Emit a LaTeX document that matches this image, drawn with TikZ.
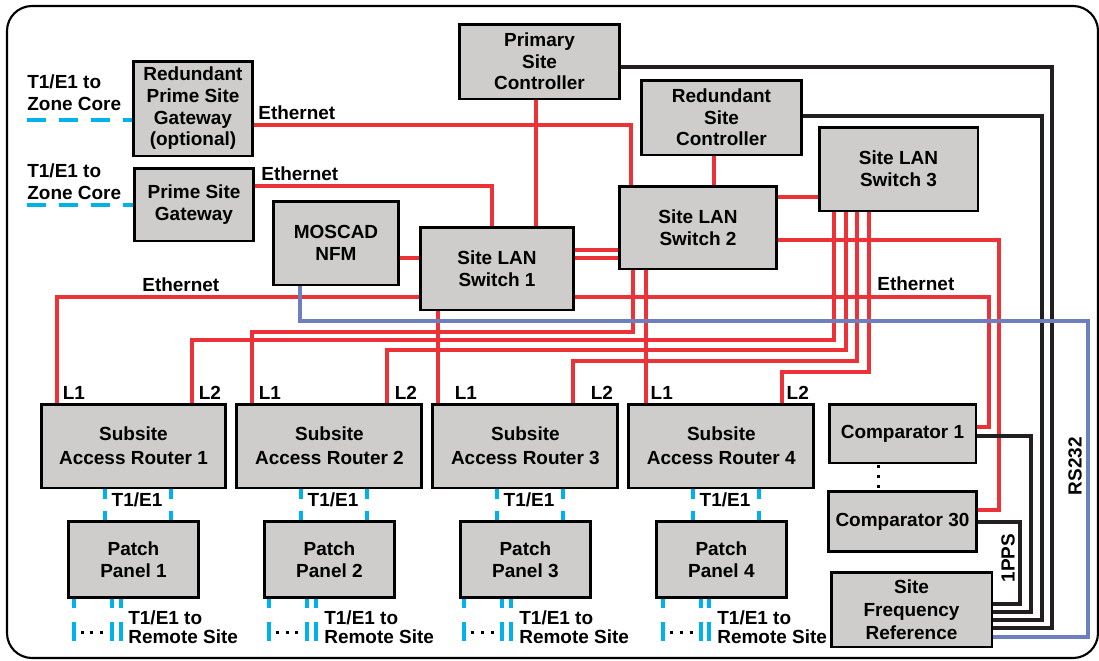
\documentclass[tikz,border=0pt]{standalone}
\usepackage{fontspec}
\setmainfont{Liberation Sans}
\usetikzlibrary{
    positioning,
    calc
}
\definecolor{BoxGray}{RGB}{206,205,203}
\definecolor{EthRed}{RGB}{237,50,55}
\definecolor{RsBlue}{RGB}{110,127,192}
\definecolor{TeCyan}{RGB}{0,178,235}
\definecolor{SyncBlack}{RGB}{35,31,32}
\tikzset{
  box/.style    = {draw=black, line width=1.7pt, fill=BoxGray, align=center,
                   inner sep=1pt, font=\fontsize{10.8}{12.3}\selectfont\bfseries},
  arbox/.style  = {box, minimum width=3.7cm, minimum height=1.68cm,
                   font=\fontsize{10.8}{13.6}\selectfont\bfseries},
  ppbox/.style  = {box, minimum width=2.6cm, minimum height=1.52cm},
  lbl/.style    = {inner sep=0pt, font=\fontsize{10.8}{12.3}\selectfont\bfseries},
  eth/.style    = {EthRed, line width=2pt},
  sync/.style   = {SyncBlack, line width=1.9pt},
  rs/.style     = {RsBlue, line width=2pt},
  zone/.style   = {TeCyan, line width=2.2pt, dash pattern=on 0.38cm off 0.26cm},
  tone/.style   = {TeCyan, line width=2.2pt, dash pattern=on 0.2cm off 0.24cm},
  tail/.style   = {TeCyan, line width=2.2pt, dash pattern=on 0.18cm off 0.28cm on 0.38cm off 2cm},
  dotrow/.style = {black, line width=0.06cm, dash pattern=on 0.06cm off 0.14cm}
}

\begin{document}
\begin{tikzpicture}[x=0.02cm, y=-0.02cm, node distance=0.62cm and 0.16cm]
\useasboundingbox (0,0) rectangle (1099,660);
\draw[line width=1.2pt, rounded corners=0.5cm] (7,6) rectangle (1098,658);

% site equipment
\node[box, minimum width=2.4cm, minimum height=1.9cm] (RGW) at (193,108.5)
    {Redundant\\Prime Site\\Gateway\\(optional)};
\node[box, minimum width=2.4cm, minimum height=1.46cm] (GW) at (194,204.5)
    {Prime Site\\Gateway};
\node[box, minimum width=3.22cm, minimum height=1.5cm] (PSC) at (539.5,61.5)
    {Primary\\Site\\Controller};
\node[box, minimum width=3.22cm, minimum height=1.5cm] (RSC) at (721.5,117.5)
    {Redundant\\Site\\Controller};
\node[box, minimum width=3.08cm, minimum height=1.66cm] (SW1) at (497,268.5)
    {Site LAN\\Switch 1};
\node[box, minimum width=3.16cm, minimum height=1.66cm] (SW2) at (698,227.5)
    {Site LAN\\Switch 2};
\node[box, minimum width=3.18cm, minimum height=1.68cm] (SW3) at (898.5,169)
    {Site LAN\\Switch 3};
\node[box, minimum width=2.52cm, minimum height=1.68cm] (NFM) at (336,243)
    {MOSCAD\\NFM};

% subsites
\node[arbox] (AR1) at (133.5,446) {Subsite\\Access Router 1};
\node[arbox, right=of AR1] (AR2) {Subsite\\Access Router 2};
\node[arbox, right=of AR2] (AR3) {Subsite\\Access Router 3};
\node[arbox, right=of AR3] (AR4) {Subsite\\Access Router 4};
\node[ppbox, below=of AR1] (PP1) {Patch\\Panel 1};
\node[ppbox, below=of AR2] (PP2) {Patch\\Panel 2};
\node[ppbox, below=of AR3] (PP3) {Patch\\Panel 3};
\node[ppbox, below=of AR4] (PP4) {Patch\\Panel 4};

% comparators and reference
\node[box, minimum width=2.94cm, minimum height=1.18cm] (C1) at (902.5,433.5) {Comparator 1};
\node[box, minimum width=2.96cm, minimum height=1.2cm, below=0.52cm of C1] (C30) {Comparator 30};
\node[box, minimum width=3.22cm, minimum height=1.5cm,
      font=\fontsize{10.8}{13}\selectfont\bfseries] (SFR) at (911.5,609.5)
    {Site\\Frequency\\Reference};

% links to zone core
\coordinate (ZC1) at (27,120);
\coordinate (ZC2) at (27,205);
\draw[zone] (ZC1) -- (ZC1 -| RGW.west);
\draw[zone] (ZC2) -- (ZC2 -| GW.west);
\node[lbl, align=left, anchor=west] at (27,93)    {T1/E1 to\\Zone Core};
\node[lbl, align=left, anchor=west] at (27,181.5) {T1/E1 to\\Zone Core};

% ethernet
\draw[eth] (RGW.east |- 0,125) -| (631,0 |- SW2.north);
\draw[eth] (536,0 |- PSC.south) -- (536,0 |- SW1.north);
\draw[eth] (714,0 |- RSC.south) -- (714,0 |- SW2.north);
\draw[eth] (GW.east |- 0,186) -| (492,0 |- SW1.north);
\draw[eth] (NFM.east |- 0,258) -- (SW1.west |- 0,258);
\draw[eth] (SW1.east |- 0,250) -- (SW2.west |- 0,250);
\draw[eth] (SW1.east |- 0,258) -- (SW2.west |- 0,258);
\draw[eth] (SW2.east |- 0,197) -- (SW3.west |- 0,197);
\draw[eth] (SW2.east |- 0,240) -| (999,510) -- (C30.east |- 0,510);
\draw[eth] (SW1.east |- 0,297) -| (989,427) -- (C1.east |- 0,427);
\draw[eth] (SW1.west |- 0,297) -| (57,0 |- AR1.north);
\draw[eth] (192,0 |- AR1.north) |- (834,340) -- (834,0 |- SW3.south);
\draw[eth] (252,0 |- AR2.north) |- (633,332) -- (633,0 |- SW2.south);
\draw[eth] (387,0 |- AR2.north) |- (846,350) -- (846,0 |- SW3.south);
\draw[eth] (438,0 |- SW1.south) -- (438,0 |- AR3.north);
\draw[eth] (573,0 |- AR3.north) |- (857,361) -- (857,0 |- SW3.south);
\draw[eth] (646,0 |- SW2.south) -- (646,0 |- AR4.north);
\draw[eth] (782,0 |- AR4.north) |- (869,372) -- (869,0 |- SW3.south);
\node[lbl, anchor=base west] at (258,119) {Ethernet};
\node[lbl, anchor=base west] at (261,180) {Ethernet};
\node[lbl, anchor=base west] at (142,291) {Ethernet};
\node[lbl, anchor=base west] at (877,290) {Ethernet};

% router ports
\node[lbl, anchor=base west] at ($(AR1.north west)+(23,-3)$)  {L1};
\node[lbl, anchor=base west] at ($(AR1.north west)+(159,-3)$) {L2};
\node[lbl, anchor=base west] at ($(AR2.north west)+(23,-3)$)  {L1};
\node[lbl, anchor=base west] at ($(AR2.north west)+(159,-3)$) {L2};
\node[lbl, anchor=base west] at ($(AR3.north west)+(23,-3)$)  {L1};
\node[lbl, anchor=base west] at ($(AR3.north west)+(159,-3)$) {L2};
\node[lbl, anchor=base west] at ($(AR4.north west)+(23,-3)$)  {L1};
\node[lbl, anchor=base west] at ($(AR4.north west)+(159,-3)$) {L2};

% 1PPS and RS232 timing
\draw[sync] (C30.east |- 0,522) -| (1020,604) -- (SFR.east |- 0,604);
\draw[sync] (C1.east |- 0,436)  -| (1031,612) -- (SFR.east |- 0,612);
\draw[sync] (RSC.east |- 0,116) -| (1042,620) -- (SFR.east |- 0,620);
\draw[sync] (PSC.east |- 0,67)  -| (1052,628) -- (SFR.east |- 0,628);
\draw[rs] (300,0 |- NFM.south) |- (1088,321) |- (SFR.east |- 0,637);
\node[lbl, rotate=90] at (1075,466) {RS232};
\node[lbl, rotate=90] at (1008,558) {1PPS};
\draw[dotrow] (878,465) -- (878,490);

% T1/E1 to patch panels
\draw[tone] (105,0 |- AR1.south) -- (105,0 |- PP1.north);
\draw[tone] (171,0 |- AR1.south) -- (171,0 |- PP1.north);
\draw[tone] (301,0 |- AR2.south) -- (301,0 |- PP2.north);
\draw[tone] (367,0 |- AR2.south) -- (367,0 |- PP2.north);
\draw[tone] (497,0 |- AR3.south) -- (497,0 |- PP3.north);
\draw[tone] (563,0 |- AR3.south) -- (563,0 |- PP3.north);
\draw[tone] (693,0 |- AR4.south) -- (693,0 |- PP4.north);
\draw[tone] (759,0 |- AR4.south) -- (759,0 |- PP4.north);
\node[lbl] at (137,500) {T1/E1};
\node[lbl] at (333,500) {T1/E1};
\node[lbl] at (529,500) {T1/E1};
\node[lbl] at (725,500) {T1/E1};

% remote site tails
\draw[tail] (74,0 |- PP1.south) -- ++(0,43) (112,0 |- PP1.south) -- ++(0,43) (121,0 |- PP1.south) -- ++(0,43);
\draw[tail] (269,0 |- PP2.south) -- ++(0,43) (307,0 |- PP2.south) -- ++(0,43) (316,0 |- PP2.south) -- ++(0,43);
\draw[tail] (464,0 |- PP3.south) -- ++(0,43) (502,0 |- PP3.south) -- ++(0,43) (511,0 |- PP3.south) -- ++(0,43);
\draw[tail] (663,0 |- PP4.south) -- ++(0,43) (701,0 |- PP4.south) -- ++(0,43) (709,0 |- PP4.south) -- ++(0,43);
\draw[dotrow] (80.5,632) -- (104,632);
\draw[dotrow] (275.5,632) -- (299,632);
\draw[dotrow] (470.5,632) -- (494,632);
\draw[dotrow] (669.5,632) -- (693,632);
\node[lbl, align=left, anchor=west, font=\fontsize{10.8}{10.8}\selectfont\bfseries] at (128,627) {T1/E1 to\\Remote Site};
\node[lbl, align=left, anchor=west, font=\fontsize{10.8}{10.8}\selectfont\bfseries] at (324,627) {T1/E1 to\\Remote Site};
\node[lbl, align=left, anchor=west, font=\fontsize{10.8}{10.8}\selectfont\bfseries] at (519,627) {T1/E1 to\\Remote Site};
\node[lbl, align=left, anchor=west, font=\fontsize{10.8}{10.8}\selectfont\bfseries] at (717,627) {T1/E1 to\\Remote Site};
\end{tikzpicture}
\end{document}
